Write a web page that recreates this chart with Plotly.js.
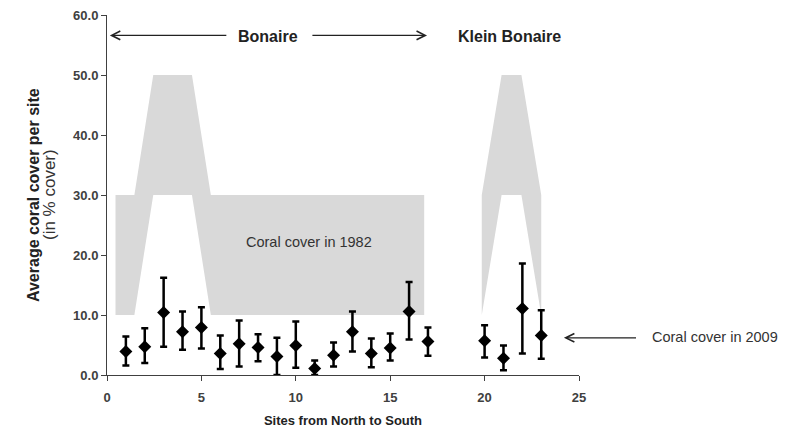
<!DOCTYPE html>
<html>
<head>
<meta charset="utf-8">
<script src="https://cdn.plot.ly/plotly-3.0.1.min.js"></script>
<style>html,body{margin:0;padding:0;background:#fff;}#chart{width:786px;height:432px;}</style>
</head>
<body>
<div id="chart"></div>
<script>
// Coral cover in 2009 per site (mean with error bars)
const sites = [1,2,3,4,5,6,7,8,9,10,11,12,13,14,15,16,17,20,21,22,23];
const cover2009 = [3.9,4.7,10.4,7.2,7.9,3.6,5.2,4.6,3.1,4.9,1.1,3.3,7.2,3.6,4.5,10.6,5.6,5.7,2.8,11.1,6.6];
const errUp = [2.5,3.1,5.8,3.4,3.4,3.0,3.9,2.2,3.1,4.0,1.3,2.1,3.4,2.5,2.4,4.9,2.3,2.6,2.1,7.5,4.2];
const errDown = [2.3,2.7,5.7,3.0,3.5,2.6,3.8,2.3,3.1,3.7,1.1,1.9,3.3,2.3,2.1,4.7,2.4,2.8,2.0,7.5,3.9];

// Coral cover range in 1982 (shaded band), Bonaire and Klein Bonaire
const bonaireX = [0.45,1.45,2.45,4.5,5.5,16.8];
const bonaireLow = [10,10,30,30,10,10];
const bonaireHigh = [30,30,50,50,30,30];
const kleinX = [19.85,20.9,21.95,23.0];
const kleinLow = [10,30,30,10];
const kleinHigh = [30,50,50,30];

const xTicks = [0,5,10,15,20,25];
const yTicks = [0,10,20,30,40,50,60];

function bandTrace(x, lo, hi) {
  return {
    x: x.concat(x.slice().reverse()),
    y: lo.concat(hi.slice().reverse()),
    type: 'scatter', mode: 'lines', fill: 'toself',
    fillcolor: '#d9d9d9', line: {width: 0, color: '#d9d9d9'},
    hoverinfo: 'skip', showlegend: false
  };
}

const traces = [
  bandTrace(bonaireX, bonaireLow, bonaireHigh),
  bandTrace(kleinX, kleinLow, kleinHigh),
  {
    x: sites, y: cover2009, type: 'scatter', mode: 'markers',
    marker: {symbol: 'diamond', size: 10, color: '#000'},
    error_y: {type: 'data', symmetric: false, array: errUp, arrayminus: errDown,
      color: '#000', thickness: 2.5, width: 3.5},
    showlegend: false, cliponaxis: false
  }
];

const FF = 'Liberation Sans, Arial, sans-serif';
const tickFont = {family: FF, size: 13, color: '#404040', weight: 'bold'};
const layout = {
  width: 786, height: 432,
  margin: {l: 107, r: 207, t: 15, b: 57},
  paper_bgcolor: '#fff', plot_bgcolor: '#fff',
  showlegend: false,
  xaxis: {
    range: [0, 25], tickvals: xTicks, ticktext: xTicks.map(String),
    showgrid: false, zeroline: false, showline: true, linecolor: '#404040', linewidth: 1,
    ticks: 'outside', ticklen: 5, tickcolor: '#404040', ticklabelstandoff: 5,
    tickfont: tickFont,
    title: {text: '<b>Sites from North to South</b>', font: {family: FF, size: 13, color: '#222'}, standoff: 12}
  },
  yaxis: {
    range: [0, 60], tickvals: yTicks, ticktext: yTicks.map(v => v.toFixed(1)),
    showgrid: false, zeroline: false, showline: true, linecolor: '#404040', linewidth: 1,
    ticks: 'outside', ticklen: 5, tickcolor: '#404040',
    tickfont: tickFont
  },
  annotations: [
    {xref: 'paper', yref: 'paper', x: 0, y: 0.5, xanchor: 'center', yanchor: 'middle', xshift: -74, textangle: -90, showarrow: false,
     text: '<b>Average coral cover per site</b>', font: {family: FF, size: 16, color: '#222'}},
    {xref: 'paper', yref: 'paper', x: 0, y: 0.5, xanchor: 'center', yanchor: 'middle', xshift: -58, textangle: -90, showarrow: false,
     text: '(in % cover)', font: {family: FF, size: 17, color: '#333'}},
    {x: 8.55, y: 56.5, xref: 'x', yref: 'y', showarrow: false, text: '<b>Bonaire</b>',
     font: {family: FF, size: 16, color: '#222'}},
    {x: 21.3, y: 56.5, xref: 'x', yref: 'y', showarrow: false, text: '<b>Klein Bonaire</b>',
     font: {family: FF, size: 16, color: '#222'}},
    {x: 0.15, y: 56.6, ax: 6.4, ay: 56.6, xref: 'x', yref: 'y', axref: 'x', ayref: 'y', text: '',
     showarrow: true, arrowhead: 5, arrowsize: 1.3, arrowwidth: 1.3, arrowcolor: '#222'},
    {x: 16.95, y: 56.6, ax: 10.8, ay: 56.6, xref: 'x', yref: 'y', axref: 'x', ayref: 'y', text: '',
     showarrow: true, arrowhead: 5, arrowsize: 1.3, arrowwidth: 1.3, arrowcolor: '#222'},
    {x: 10.7, y: 22.2, xref: 'x', yref: 'y', showarrow: false, text: 'Coral cover in 1982',
     font: {family: FF, size: 14.5, color: '#333'}},
    {x: 24.2, y: 6.2, ax: 28.1, ay: 6.2, xref: 'x', yref: 'y', axref: 'x', ayref: 'y', text: '',
     showarrow: true, arrowhead: 5, arrowsize: 1.3, arrowwidth: 1.3, arrowcolor: '#222'},
    {x: 1.15, y: 6.3 / 60, xref: 'paper', yref: 'paper', xanchor: 'left', yanchor: 'middle', showarrow: false, text: 'Coral cover in 2009',
     font: {family: FF, size: 14.5, color: '#333'}}
  ]
};

Plotly.newPlot('chart', traces, layout, {staticPlot: true, displayModeBar: false});
</script>
</body>
</html>
